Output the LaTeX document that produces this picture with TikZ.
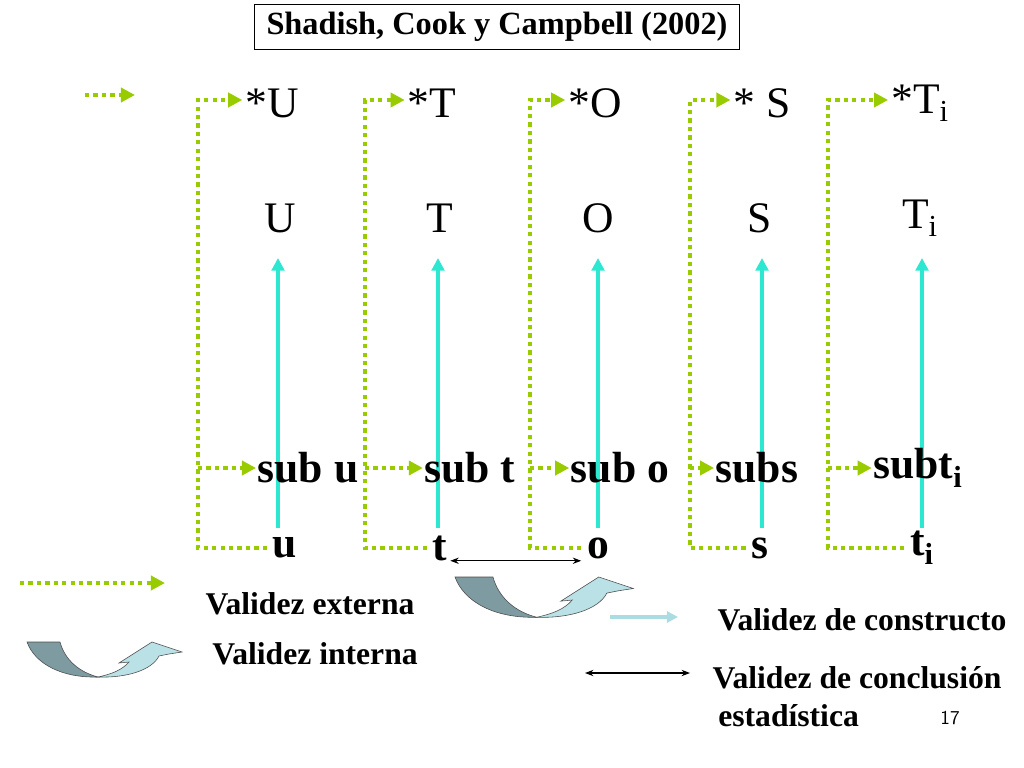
\documentclass[tikz,border=0pt]{standalone}
\usepackage{fontspec}
\setmainfont{Liberation Serif}
\usetikzlibrary{arrows.meta}
\definecolor{extgreen}{RGB}{153,204,0}
\definecolor{cyanarrow}{RGB}{45,232,208}
\definecolor{darkturn}{RGB}{125,155,160}
\definecolor{lightturn}{RGB}{185,225,230}
\definecolor{constblue}{RGB}{170,220,225}
\tikzset{
  big/.style={font=\fontsize{31}{36}\selectfont, inner sep=0pt},
  bigb/.style={font=\fontsize{31}{36}\selectfont\bfseries, inner sep=0pt},
  legend/.style={font=\fontsize{22.5}{26}\selectfont\bfseries, inner sep=0pt},
  ext/.style={extgreen, line width=2.8pt, dash pattern=on 3pt off 3pt},
  extarrow/.style={ext, -{Triangle[length=10pt,width=10pt,fill=extgreen]}},
  cons/.style={cyanarrow, line width=2.8pt, -{Triangle[length=9pt,width=9pt]}},
}
\newcommand{\uturn}[2]{% origin, scale
  \begin{scope}[shift={#1}, scale=#2]
    \filldraw[fill=darkturn, draw=black!70, thin] (0,0) -- (33,0) .. controls (38,18) and (52,30) .. (71,35) .. controls (35,36) and (8,22) .. (0,0) -- cycle;
    \filldraw[fill=lightturn, draw=black!70, thin] (71,35) .. controls (100,36) and (125,28) .. (132,14) -- (142,12) -- (155,10) -- (125,0) -- (92,21) -- (102,20) .. controls (95,28) and (85,32) .. (71,35) -- cycle;
  \end{scope}}
\begin{document}
\begin{tikzpicture}[x=0.025cm, y=-0.025cm]
\useasboundingbox (0,0) rectangle (1024,768);
% title
\node[draw, line width=1pt, font=\fontsize{23}{26}\selectfont\bfseries, minimum width=485*0.025cm, minimum height=45*0.025cm] (title) at (497,27) {Shadish, Cook y Campbell (2002)};
% top row
\node[big] (tu) at (272,103) {*U};
\node[big] (tt) at (432,103) {*T};
\node[big] (to) at (595,103) {*O};
\node[big] (ts) at (762,103) {* S};
\node[big] (tti) at (920,103) {*T\textsubscript{i}};
% middle row
\node[big] (mu) at (280,218) {U};
\node[big] (mt) at (440,218) {T};
\node[big] (mo) at (598,218) {O};
\node[big] (ms) at (760,218) {S};
\node[big] (mti) at (920,218) {T\textsubscript{i}};
% construct arrows, behind the labels below
\foreach \x in {278, 438, 598, 762, 922}
  \draw[cons] (\x,528) -- (\x,258);
% sub row
\node[bigb] (su) at (308,468) {sub u};
\node[bigb] (st) at (470,468) {sub t};
\node[bigb] (so) at (620,468) {sub o};
\node[bigb] (ss) at (757,468) {subs};
\node[bigb] (sti) at (918,468) {subt\textsubscript{i}};
% bottom row
\node[bigb] (bu) at (285,548) {u};
\node[bigb] (bt) at (440,548) {t};
\node[bigb] (bo) at (598,548) {o};
\node[bigb] (bs) at (760,548) {s};
\node[bigb] (bti) at (922,548) {t\textsubscript{i}};
% external validity paths
\foreach \b/\t/\s/\lx in {bu/tu/su/198, bt/tt/st/365, bo/to/so/530, bs/ts/ss/690, bti/tti/sti/828} {
  \draw[extarrow] ([xshift=-4pt]\b.west) -- (\lx,548) -- (\lx,100) -- ([xshift=-2pt]\t.west |- \lx,100);
  \draw[extarrow] (\lx,468) -- ([xshift=-1pt]\s.west);
}
\coordinate (ea) at (85,95);
\coordinate (eb) at (135,95);
\draw[extarrow] (ea) -- (eb);
% conclusion arrow t -- o
\draw[{Stealth[length=6pt]}-{Stealth[length=6pt]}, thick] ([xshift=2pt]bt.south east) -- ([xshift=-4pt]bo.south west |- bt.south east);
\uturn{(455,577)}{1.15}
% legend
\coordinate (la) at (20,583);
\coordinate (lb) at (165,583);
\draw[extarrow] (la) -- (lb);
\node[legend] (lext) at (310,604) {Validez externa};
\uturn{(27,642)}{1}
\node[legend] (lint) at (315,654) {Validez interna};
\coordinate (ca) at (610,617);
\coordinate (cb) at (678,617);
\draw[constblue, line width=2.5pt, -{Triangle[length=8pt,width=8pt]}] (ca) -- (cb);
\node[legend] (lcons) at (862,620) {Validez de constructo};
\coordinate (da) at (585,673);
\coordinate (db) at (690,673);
\draw[{Stealth[length=6pt]}-{Stealth[length=6pt]}, thick] (da) -- (db);
\node[legend] (lconc) at (857,678) {Validez de conclusión};
\node[legend, anchor=west] (lest) at (718,716) {estadística};
\node[font=\sffamily\fontsize{14}{16}\selectfont] (page) at (950,718) {17};
\end{tikzpicture}
\end{document}
